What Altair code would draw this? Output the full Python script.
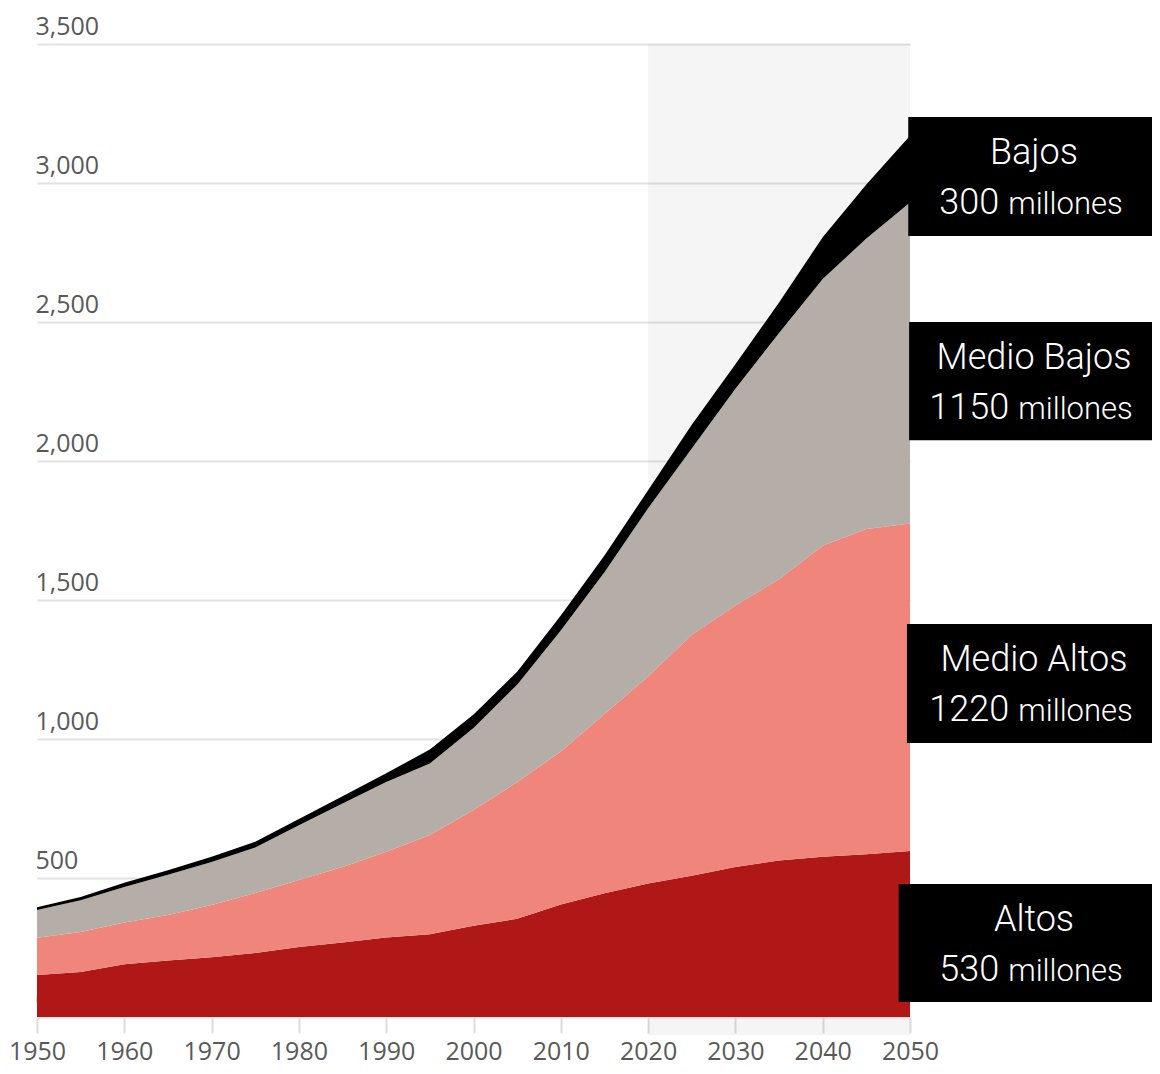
import altair as alt
import pandas as pd

# ---------------- data (millones de personas) ----------------
years = list(range(1950, 2051, 5))
altos = [151, 162, 190, 203, 215, 230, 252, 268, 286, 298, 328, 353, 405, 445, 480, 508, 540, 563, 576, 585, 597]
medio_altos = [134, 144, 150, 164, 188, 216, 241, 272, 308, 357, 417, 492, 550, 645, 745, 867, 940, 1012, 1119, 1170, 1178]
medio_bajos = [100, 114, 128, 145, 155, 164, 197, 228, 251, 257, 295, 350, 435, 510, 605, 670, 780, 885, 960, 1045, 1155]
bajos = [10, 12, 15, 16, 18, 20, 22, 26, 32, 50, 48, 47, 54, 60, 65, 85, 88, 110, 150, 195, 240]

series = ["Altos", "Medio Altos", "Medio Bajos", "Bajos"]
colors = ["#b01817", "#f0867b", "#b5ada7", "#000000"]
label_numbers = ["530", "1220", "1150", "300"]

x_ticks = list(range(1950, 2051, 10))
y_ticks = [0, 500, 1000, 1500, 2000, 2500, 3000, 3500]
proj_start, proj_end = 2020, 2050

# ---------------- layout ----------------
W, H = 873, 973
X_DOM = [1950, 2050]
Y_DOM = [0, 3500]
PX_PER_YEAR = W / (X_DOM[1] - X_DOM[0])
PX_PER_VAL = H / (Y_DOM[1] - Y_DOM[0])

# annotation boxes (data units), same order as series
box_top = [478, 1414, 2500, 3237]
box_bottom = [54, 986, 2075, 2809]
box_left = [2048.7, 2049.65, 2049.9, 2049.8]
box_right = 2080
text_center_px = 1034 - 37  # relative to plot left

rows = []
for i, s in enumerate(series):
    for y, v in zip(years, [altos, medio_altos, medio_bajos, bajos][i]):
        rows.append({"anio": y, "valor": v, "grupo": s, "orden": i})
df = pd.DataFrame(rows)

NUM_FS, MILL_FS, TITLE_FS = 36, 31, 36
ann = []
for i, s in enumerate(series):
    num_w = len(label_numbers[i]) * 0.56 * NUM_FS
    mill_w = 3.78 * MILL_FS
    gap = 9
    total = num_w + gap + mill_w
    left_px = text_center_px - total / 2 - 2
    ann.append({
        "grupo": s,
        "top": box_top[i], "bottom": box_bottom[i],
        "x0": box_left[i], "x1": box_right,
        "xc": X_DOM[0] + text_center_px / PX_PER_YEAR,
        "xnum": X_DOM[0] + (left_px + num_w) / PX_PER_YEAR,
        "xmill": X_DOM[0] + (left_px + num_w + gap) / PX_PER_YEAR,
        "num": label_numbers[i],
        "mill": "millones",
    })
ann = pd.DataFrame(ann)

xs = alt.Scale(domain=X_DOM, nice=False, zero=False)
ys = alt.Scale(domain=Y_DOM, nice=False)

shade_df = pd.DataFrame({"x0": [proj_start], "x1": [proj_end],
                         "y0": [Y_DOM[1]], "y1": [-18 / PX_PER_VAL]})

shade = alt.Chart(shade_df).mark_rect(color="#000000", opacity=0.04, clip=False).encode(
    x=alt.X("x0:Q", scale=xs, axis=alt.Axis(
        values=x_ticks, format="d", title=None, grid=False, domain=False,
        tickSize=16, tickColor="#dcdcdc", tickWidth=2,
        labelFont="Open Sans", labelFontSize=25, labelColor="#595959",
        labelBaseline="alphabetic", labelPadding=26, labelFlush=False)),
    x2="x1:Q",
    y=alt.Y("y0:Q", scale=ys, axis=alt.Axis(
        values=y_ticks, format=",.0f", title=None, grid=True, gridColor="#e2e2e2",
        gridWidth=2, domain=False, ticks=False, tickSize=0,
        labelAlign="left", labelBaseline="alphabetic", labelOffset=-10,
        labelPadding=2, labelFont="Open Sans", labelFontSize=25, labelColor="#595959")),
    y2="y1:Q",
)

areas = alt.Chart(df).mark_area(interpolate="linear").encode(
    x=alt.X("anio:Q", scale=xs),
    y=alt.Y("valor:Q", stack="zero", scale=ys),
    color=alt.Color("grupo:N", scale=alt.Scale(domain=series, range=colors), legend=None),
    order=alt.Order("orden:Q", sort="ascending"),
)

boxes = alt.Chart(ann).mark_rect(color="#000000", clip=False).encode(
    x=alt.X("x0:Q", scale=xs), x2="x1:Q",
    y=alt.Y("top:Q", scale=ys), y2="bottom:Q",
)

titles = alt.Chart(ann).mark_text(
    color="white", font="Roboto", fontWeight=300, fontSize=TITLE_FS,
    align="center", baseline="alphabetic", dy=47, clip=False
).encode(x=alt.X("xc:Q", scale=xs), y=alt.Y("top:Q", scale=ys), text="grupo:N")

nums = alt.Chart(ann).mark_text(
    color="white", font="Roboto", fontWeight=300, fontSize=NUM_FS,
    align="right", baseline="alphabetic", dy=97, clip=False
).encode(x=alt.X("xnum:Q", scale=xs), y=alt.Y("top:Q", scale=ys), text="num:N")

mills = alt.Chart(ann).mark_text(
    color="white", font="Roboto", fontWeight=300, fontSize=MILL_FS,
    align="left", baseline="alphabetic", dy=97, clip=False
).encode(x=alt.X("xmill:Q", scale=xs), y=alt.Y("top:Q", scale=ys), text="mill:N")

chart = alt.layer(shade, areas, boxes, titles, nums, mills).properties(
    width=W, height=H,
    autosize=alt.AutoSizeParams(type="none"),
    padding={"left": 29, "top": 36, "right": 242, "bottom": 49},
    background="white",
).configure_view(stroke=None)

chart.save("out.html", embed_options={"renderer": "svg", "actions": False})
